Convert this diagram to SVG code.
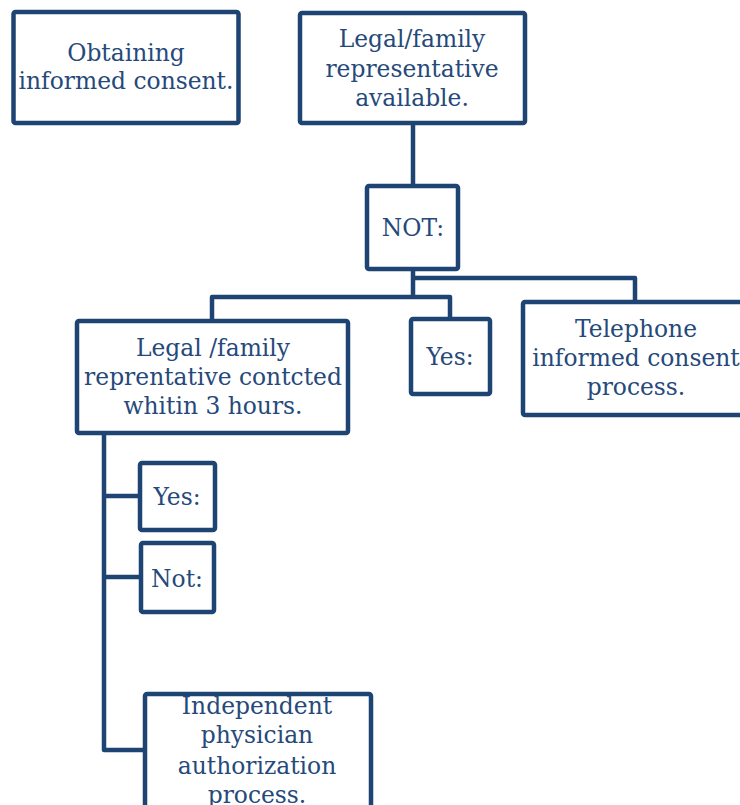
<svg xmlns="http://www.w3.org/2000/svg" width="740" height="805" viewBox="0 0 740 805">
<style>
.box{fill:#fff;stroke:#1e4473;stroke-width:4.5;stroke-linejoin:round}
.con{fill:none;stroke:#1e4473;stroke-width:4.5;stroke-linejoin:round}
text{font-family:"DejaVu Serif","Liberation Serif",serif;font-size:23.4px;fill:#25497a;text-anchor:middle}
</style>
<rect width="740" height="805" fill="#fff"/>
<g id="connectors">
<path class="con" d="M413 123 V186"/>
<path class="con" d="M413 269 V297 M413 278 H635 V302"/>
<path class="con" d="M212 321 V297 H450 V319"/>
<path class="con" d="M104 433 V750 H145 M104 496 H140 M104 577 H141"/>
</g>
<g id="n1"><rect class="box" x="13.5" y="12" width="225" height="111" rx="2"/>
<text x="126" y="61">Obtaining</text><text x="126" y="89">informed consent.</text></g>
<g id="n2"><rect class="box" x="300" y="13" width="225" height="110" rx="2"/>
<text x="412" y="47">Legal/family</text><text x="412" y="77">representative</text><text x="412" y="106">available.</text></g>
<g id="n3"><rect class="box" x="367" y="186" width="91" height="83" rx="2"/>
<text x="413" y="236">NOT:</text></g>
<g id="n4"><rect class="box" x="77" y="321" width="271" height="112" rx="2"/>
<text x="213" y="356">Legal /family</text><text x="213" y="385">reprentative contcted</text><text x="213" y="414">whitin 3 hours.</text></g>
<g id="n5"><rect class="box" x="411" y="319" width="79" height="75" rx="2"/>
<text x="450" y="365">Yes:</text></g>
<g id="n6"><rect class="box" x="523" y="302" width="226" height="113" rx="2"/>
<text x="636" y="337">Telephone</text><text x="636" y="366">informed consent</text><text x="636" y="395">process.</text></g>
<g id="n7"><rect class="box" x="140" y="463" width="75" height="67" rx="2"/>
<text x="177" y="505">Yes:</text></g>
<g id="n8"><rect class="box" x="141" y="543" width="73" height="69" rx="2"/>
<text x="177" y="587">Not:</text></g>
<g id="n9"><rect class="box" x="145" y="694" width="226" height="130" rx="2"/>
<text x="257" y="714">Independent</text><text x="257" y="743">physician</text><text x="257" y="774">authorization</text><text x="257" y="803">process.</text></g>
</svg>
